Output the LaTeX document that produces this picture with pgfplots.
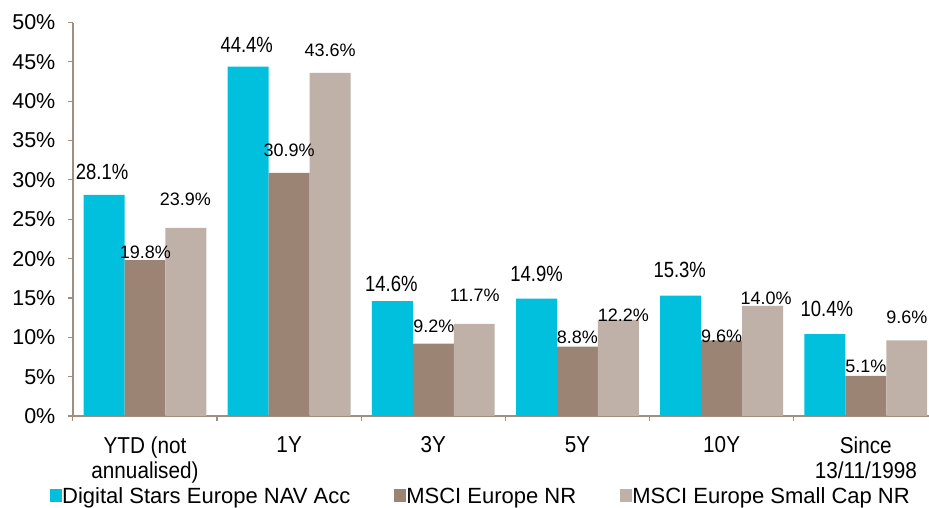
\documentclass[border=0pt]{standalone}
\usepackage{fontspec}
\setmainfont{Liberation Sans}
\newfontfamily\narrowA{Liberation Sans}[FakeStretch=0.84]
\newfontfamily\narrowB{Liberation Sans}[FakeStretch=0.9]
\usepackage{pgfplots}
\usepackage{pgfplotstable}
\pgfplotsset{compat=1.18}
\definecolor{cyanbar}{RGB}{0,192,222}
\definecolor{brownbar}{RGB}{155,132,115}
\definecolor{lightbar}{RGB}{191,176,168}
\definecolor{axiscol}{RGB}{160,142,128}

\pgfplotstableread{
x y dx dy
0 28.1 -2 15
1 44.4 -1.5 14
2 14.6 -1 10
3 14.9 0 17
4 15.3 -1 18
5 10.4 2 18
}\seriesA
\pgfplotstableread{
x y dx dy
0 19.8 0.5 2
1 30.9 0 16
2 9.2 0.5 11
3 8.8 0 3
4 9.6 0 -2
5 5.1 0 3
}\seriesB
\pgfplotstableread{
x y dx dy
0 23.9 -0.5 22
1 43.6 0 16
2 11.7 0.5 22
3 12.2 5 -2
4 14.0 3.5 1
5 9.6 0 17
}\seriesC

\begin{document}
\begin{tikzpicture}
\begin{axis}[
  at={(0,0)}, anchor=south west,
  scale only axis, width=865pt, height=393.5pt,
  xmin=-0.5, xmax=5.5, ymin=0, ymax=50,
  ybar, bar width=0.284,
  axis x line=bottom, axis y line=left,
  axis line style={axiscol, line width=1.5pt, -},
  tick align=outside,
  major tick length=5pt,
  tick style={axiscol, line width=1.2pt},
  /pgf/number format/assume math mode=true,
  ytick={0,5,...,50},
  yticklabel={\pgfmathprintnumber{\tick}\%},
  yticklabel style={font=\fontsize{21.5}{25}\selectfont, xshift=-9pt},
  xtick={-0.5,0.5,...,5.5},
  xticklabels={},
  extra x ticks={0,1,2,3,4,5},
  extra x tick labels={{YTD (not\\annualised)},1Y,3Y,5Y,10Y,{Since\\13/11/1998}},
  extra x tick style={major tick length=0pt, tick label style={align=center, font=\narrowB\fontsize{23}{25}\selectfont, anchor=north, yshift=-17pt}},
  visualization depends on={\thisrow{dx} \as \labdx},
  visualization depends on={\thisrow{dy} \as \labdy},
  nodes near coords={\pgfmathprintnumber[fixed,fixed zerofill,precision=1]{\pgfplotspointmeta}\%},
  nodes near coords style={anchor=base, xshift=\labdx pt, yshift=\labdy pt, black},
  legend columns=3,
  legend style={at={(-0.0265,-0.2314)}, anchor=south west, draw=none, fill=none,
    inner sep=0pt, font=\fontsize{22}{25}\selectfont,
    /tikz/every even column/.append style={column sep=42pt},
    /tikz/every odd column/.append style={column sep=-2pt}},
  legend image code/.code={\fill[#1] (0pt,-5.5pt) rectangle (12pt,7.5pt);},
]
\addplot[fill=cyanbar, draw=none, bar shift=-0.284,
  nodes near coords style={font=\narrowA\fontsize{22}{24}\selectfont}]
  table[x=x, y=y] {\seriesA};
\addplot[fill=brownbar, draw=none, bar shift=0,
  nodes near coords style={font=\fontsize{18}{20}\selectfont}]
  table[x=x, y=y] {\seriesB};
\addplot[fill=lightbar, draw=none, bar shift=0.284,
  nodes near coords style={font=\fontsize{18}{20}\selectfont}]
  table[x=x, y=y] {\seriesC};
\legend{Digital Stars Europe NAV Acc, MSCI Europe NR, MSCI Europe Small Cap NR}
\end{axis}
\pgfresetboundingbox
\path[use as bounding box] (-72.9pt,-92pt) rectangle (856.1pt,416pt);
\end{tikzpicture}
\end{document}
